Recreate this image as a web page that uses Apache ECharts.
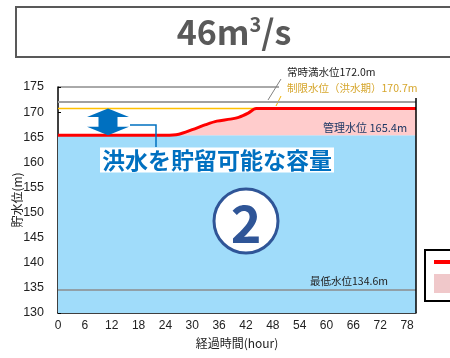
<!DOCTYPE html>
<html>
<head>
<meta charset="utf-8">
<script src="https://cdn.jsdelivr.net/npm/echarts@6/dist/echarts.min.js"></script>
<style>
  html, body { margin: 0; padding: 0; background: #fff; }
  #chart { width: 450px; height: 358px; }
</style>
</head>
<body>
<div id="chart"></div>
<script>
// 貯水位の推移 (経過時間 → 水位)
const hours = [0, 24, 27, 30, 33, 35.5, 38.5, 40.5, 42.5, 44.3, 80];
const levels = [165.4, 165.4, 165.6, 166.5, 167.5, 168.2, 168.6, 169.0, 169.8, 170.7, 170.7];

// x軸の目盛ラベル
const xTickLabels = [0, 6, 12, 18, 24, 30, 36, 42, 48, 54, 60, 66, 72, 78];

// 基準水位
const FULL_LEVEL = 172.0;   // 常時満水位
const LIMIT_LEVEL = 170.7;  // 制限水位(洪水期)
const MGMT_LEVEL = 165.4;   // 管理水位
const MIN_LEVEL = 134.6;    // 最低水位

const X_MIN = 0, X_MAX = 80;
const JP = "'Noto Sans CJK JP', sans-serif";

const chart = echarts.init(document.getElementById('chart'));

function flat(v) {
    return [[X_MIN, v], [X_MAX, v]];
}

const option = {
    animation: false,
    grid: { left: 58, right: 34, top: 87, bottom: 45, containLabel: false, outerBoundsMode: 'none' },
    xAxis: {
        type: 'value',
        min: X_MIN,
        max: X_MAX,
        name: '経過時間(hour)',
        nameLocation: 'middle',
        nameGap: 24,
        nameMoveOverlap: false,
        nameTextStyle: { fontFamily: JP, fontSize: 12, color: '#222' },
        axisLine: { show: true, lineStyle: { color: '#000', width: 1.5 } },
        axisTick: { show: true, inside: true, length: 4, customValues: xTickLabels, lineStyle: { color: '#000' } },
        axisLabel: { customValues: xTickLabels, margin: 7, fontSize: 12, color: '#222', fontFamily: 'Liberation Sans' },
        splitLine: { show: false }
    },
    yAxis: {
        type: 'value',
        min: 130,
        max: 175,
        interval: 5,
        name: '貯水位(m)',
        nameLocation: 'middle',
        nameGap: 35,
        nameMoveOverlap: false,
        nameTextStyle: { fontFamily: JP, fontSize: 12, color: '#222' },
        axisLine: { show: true, lineStyle: { color: '#000', width: 1.5 } },
        axisTick: { show: true, inside: true, length: 3, lineStyle: { color: '#000' } },
        axisLabel: { margin: 14, fontSize: 12.5, color: '#222', fontFamily: 'Liberation Sans' },
        splitLine: { show: false }
    },
    legend: {
        orient: 'vertical',
        left: 425,
        top: 250,
        itemWidth: 30,
        itemHeight: 19,
        itemGap: 6,
        padding: [6, 8, 8, 9],
        borderColor: '#000',
        borderWidth: 2,
        textStyle: { fontFamily: JP, fontSize: 12, color: '#222' },
        data: [
            { name: '貯水位', icon: 'path://M0,0H30V4H0Z' },
            { name: '洪水調節容量', icon: 'rect' }
        ]
    },
    series: [
        {
            // 管理水位までの貯水
            name: '貯水',
            type: 'line',
            data: flat(MGMT_LEVEL),
            symbol: 'none',
            silent: true,
            lineStyle: { width: 0 },
            areaStyle: { color: '#a0dcfa', opacity: 1, origin: 'start' },
            z: 1
        },
        {
            name: '洪水調節容量',
            type: 'line',
            data: hours.map((h, i) => [h, levels[i]]),
            smooth: 0.3,
            symbol: 'none',
            silent: true,
            itemStyle: { color: '#f0c8ca' },
            lineStyle: { width: 0 },
            areaStyle: { color: '#ffcccc', opacity: 1, origin: MGMT_LEVEL },
            z: 2
        },
        {
            name: '常時満水位',
            type: 'line',
            data: flat(FULL_LEVEL),
            symbol: 'none',
            lineStyle: { color: '#a0a0a0', width: 2 },
            z: 3
        },
        {
            name: '制限水位',
            type: 'line',
            data: flat(LIMIT_LEVEL),
            symbol: 'none',
            lineStyle: { color: '#ffc000', width: 1.5 },
            z: 3
        },
        {
            name: '最低水位',
            type: 'line',
            data: flat(MIN_LEVEL),
            symbol: 'none',
            lineStyle: { color: '#8c8c8c', width: 1.5 },
            z: 3
        },
        {
            name: '貯水位',
            type: 'line',
            data: hours.map((h, i) => [h, levels[i]]),
            smooth: 0.3,
            symbol: 'none',
            itemStyle: { color: '#ff0000' },
            lineStyle: { color: '#ff0000', width: 3 },
            z: 5
        }
    ]
};

chart.setOption(option);

// 注記類 (水位はグラフの座標から求める)
const yLimit = chart.convertToPixel({ yAxisIndex: 0 }, LIMIT_LEVEL);
const yMgmt = chart.convertToPixel({ yAxisIndex: 0 }, MGMT_LEVEL);
const yTop = chart.convertToPixel({ yAxisIndex: 0 }, 175);
const yBottom = chart.convertToPixel({ yAxisIndex: 0 }, 130);
const xLeft = chart.convertToPixel({ xAxisIndex: 0 }, X_MIN);
const xRight = chart.convertToPixel({ xAxisIndex: 0 }, X_MAX);

const cx = 108, headH = 8.5, shaftW = 9.5, headW = 21;
const arrowPts = [
    [cx, yLimit], [cx + headW, yLimit + headH], [cx + shaftW, yLimit + headH],
    [cx + shaftW, yMgmt - headH], [cx + headW, yMgmt - headH], [cx, yMgmt],
    [cx - headW, yMgmt - headH], [cx - shaftW, yMgmt - headH],
    [cx - shaftW, yLimit + headH], [cx - headW, yLimit + headH]
];

chart.setOption({
    graphic: [
        // 見出し枠
        {
            type: 'rect',
            shape: { x: 16, y: 7, width: 460, height: 50 },
            style: { fill: 'none', stroke: '#595959', lineWidth: 2 }
        },
        {
            type: 'text',
            style: {
                x: 234, y: 32,
                text: '{a|46m}{b|3}{a|/s}',
                textAlign: 'center',
                textVerticalAlign: 'middle',
                rich: {
                    a: { fontFamily: JP, fontSize: 34, fontWeight: 'bold', fill: '#595959', lineHeight: 36 },
                    b: { fontFamily: JP, fontSize: 20, fontWeight: 'bold', fill: '#595959', verticalAlign: 'top', lineHeight: 22 }
                }
            }
        },
        // 枠線
        {
            type: 'line',
            shape: { x1: xLeft, y1: yTop, x2: 279, y2: yTop },
            style: { stroke: '#555', lineWidth: 1 }
        },
        {
            type: 'line',
            shape: { x1: xRight, y1: 98, x2: xRight, y2: yBottom },
            style: { stroke: '#000', lineWidth: 1.5 },
            z: 10
        },
        // 常時満水位
        {
            type: 'text',
            style: { x: 287, y: 72, text: '常時満水位172.0m', fontFamily: JP, fontSize: 10.5, fill: '#222', textVerticalAlign: 'middle' }
        },
        {
            type: 'line',
            shape: { x1: 281, y1: 79, x2: 268, y2: 100 },
            style: { stroke: '#808080', lineWidth: 1 }
        },
        // 制限水位
        {
            type: 'text',
            style: { x: 287, y: 88, text: '制限水位（洪水期）170.7m', fontFamily: JP, fontSize: 10.5, fill: '#d6a62c', textVerticalAlign: 'middle' }
        },
        {
            type: 'line',
            shape: { x1: 281, y1: 96, x2: 276, y2: 106 },
            style: { stroke: '#f0b400', lineWidth: 1 }
        },
        // 管理水位
        {
            type: 'text',
            style: { x: 323, y: 128, text: '管理水位 165.4m', fontFamily: JP, fontSize: 11, fill: '#1f3864', textVerticalAlign: 'middle' },
            z: 10
        },
        // 最低水位
        {
            type: 'text',
            style: { x: 310, y: 281, text: '最低水位134.6m', fontFamily: JP, fontSize: 10.5, fill: '#222', textVerticalAlign: 'middle' },
            z: 10
        },
        // 洪水を貯留可能な容量
        {
            type: 'polygon',
            shape: { points: arrowPts },
            style: { fill: '#0070c0' },
            z: 10
        },
        {
            type: 'polyline',
            shape: { points: [[130, 125], [156, 125], [156, 147]] },
            style: { stroke: '#0070c0', lineWidth: 1.5, fill: 'none' },
            z: 10
        },
        {
            type: 'text',
            style: {
                x: 100, y: 160, text: '洪水を貯留可能な容量',
                fontFamily: JP, fontSize: 23, fontWeight: 'bold', fill: '#0070c0',
                textVerticalAlign: 'middle', backgroundColor: '#fff', padding: [1, 2, 1, 2]
            },
            z: 11
        },
        // ②
        {
            type: 'circle',
            shape: { cx: 246, cy: 221, r: 32 },
            style: { fill: '#fff', stroke: '#2f5597', lineWidth: 3 },
            z: 10
        },
        {
            type: 'text',
            style: {
                x: 246, y: 223, text: '2', fontFamily: JP, fontSize: 52, fontWeight: 'bold',
                fill: '#2f5597', textAlign: 'center', textVerticalAlign: 'middle'
            },
            z: 11
        }
    ]
});
</script>
</body>
</html>
